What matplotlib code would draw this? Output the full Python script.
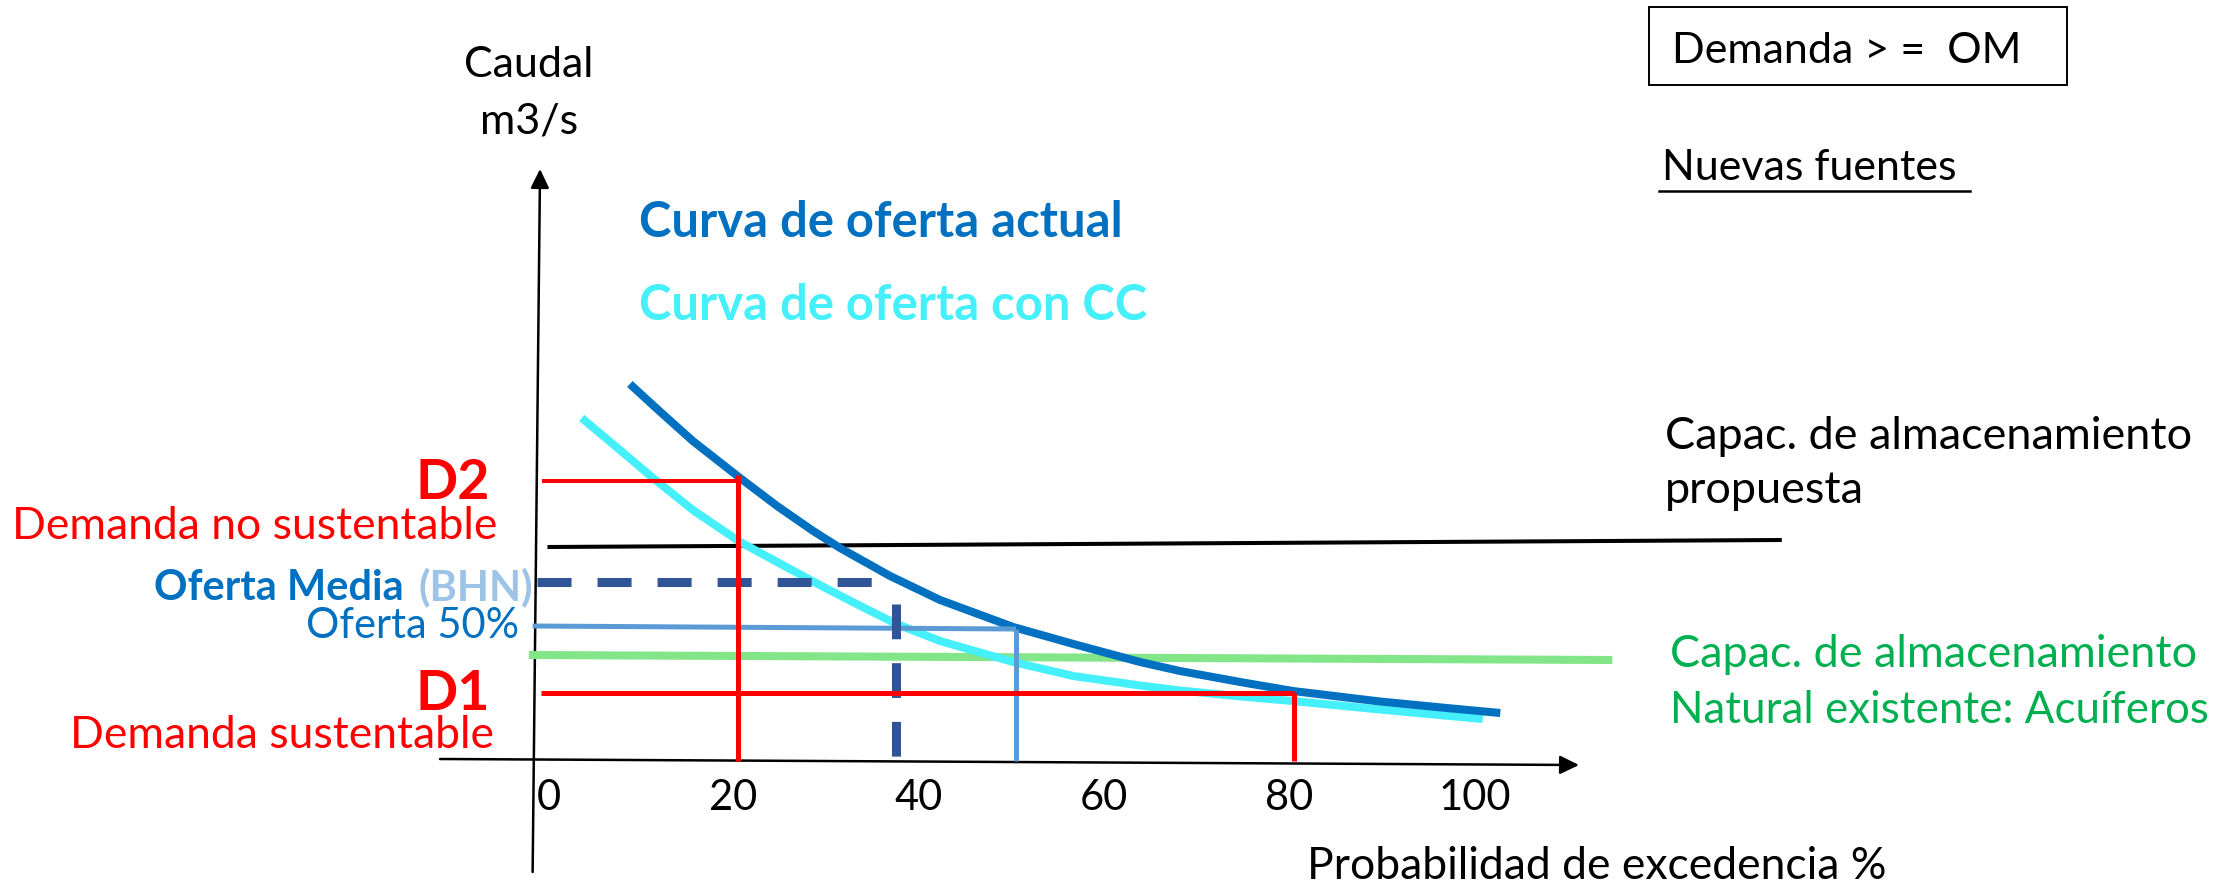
import matplotlib
matplotlib.use("Agg")
import matplotlib.pyplot as plt
from matplotlib.patches import FancyArrowPatch, Rectangle, ArrowStyle

plt.rcParams['font.family'] = ['Lato', 'DejaVu Sans']

# ---- data (probability of exceedance %, flow in arbitrary m3/s units) ----
actual_x = [8.3, 11.6, 15.1, 20.2, 24.2, 28.1, 31.0, 36.4, 41.8, 49.7, 56.2,
            63.4, 67.7, 74.5, 79.9, 89.3, 96.5, 102.3]
actual_y = [37.7, 34.9, 32.0, 28.3, 25.5, 23.0, 21.3, 18.5, 16.1, 13.4, 11.7,
            9.9, 9.0, 7.85, 7.0, 5.95, 5.3, 4.8]

cc_x = [3.1, 6.2, 10.8, 15.1, 20.2, 24.2, 28.8, 33.2, 37.1, 41.8, 49.7, 56.2,
        63.4, 67.7, 74.9, 79.9, 89.3, 100.4]
cc_y = [34.3, 31.9, 28.3, 25.1, 21.9, 19.9, 17.6, 15.5, 13.7, 12.0, 9.9, 8.5,
        7.55, 7.05, 6.4, 6.0, 5.15, 4.2]

d2_x, d2_level = 20, 28.0          # unsustainable demand
d1_x, d1_level = 80, 6.8           # sustainable demand
media_x, media_level = 37, 17.9    # mean supply (BHN)
p50_x, p50_level = [-2.2, 50], [13.5, 13.2]   # 50 % supply
storage_prop_x, storage_prop_y = [-0.6, 132.7], [21.4, 22.1]
storage_nat_x, storage_nat_y = [-2.6, 114.4], [10.6, 10.1]

tick_values = [0, 20, 40, 60, 80, 100]
tick_labels = ['0', '20', '40', '60', '80', '100']

# ---- colours ----
C_ACT = '#0070C0'
C_CC = '#45F0FA'
C_RED = '#FF0000'
C_DASH = '#2F5597'
C_P50 = '#5B9BD5'
C_GREEN_L = '#82E588'
C_GREEN_T = '#00B050'
C_BHN = '#9DC3E6'

W, H = 2226, 887
fig = plt.figure(figsize=(W / 100, H / 100), dpi=100)
ax = fig.add_axes([0, 0, 1, 1])
ax.set_xlim(-59.72, 180.67)
ax.set_ylim(-12.5, 76.2)
ax.axis('off')


def P(x, y):
    """pixel position (top-left origin) -> figure fraction"""
    return x / W, 1 - y / H


def label(x, y, s, **kw):
    kw.setdefault('va', 'baseline')
    kw.setdefault('fontsize', 32)
    fig.text(*P(x, y), s, **kw)


# ---- axes with arrows ----
arrow = ArrowStyle('-|>', head_length=11.5, head_width=5.6)
for start, end in [((-2.2, -11.1), (-1.4, 59.2)), ((-12.2, 0.2), (110.8, -0.4))]:
    ax.add_patch(FancyArrowPatch(start, end, arrowstyle=arrow, mutation_scale=1,
                                 lw=1.8, color='black', shrinkA=0, shrinkB=0,
                                 zorder=2))

# ---- storage lines ----
ax.plot(storage_nat_x, storage_nat_y, color=C_GREEN_L, lw=5.8,
        solid_capstyle='butt', zorder=3)
ax.plot(storage_prop_x, storage_prop_y, color='black', lw=2.9,
        solid_capstyle='butt', zorder=3)

# ---- supply curves ----
ax.plot(cc_x, cc_y, color=C_CC, lw=5.8, solid_capstyle='butt',
        solid_joinstyle='round', zorder=4)
ax.plot(actual_x, actual_y, color=C_ACT, lw=5.8, solid_capstyle='butt',
        solid_joinstyle='round', zorder=5)

# ---- 50 % supply ----
ax.plot(p50_x, p50_level, color=C_P50, lw=3.6, solid_capstyle='butt', zorder=6)
ax.plot([p50_x[1], p50_x[1]], [p50_level[1], 0], color=C_P50, lw=3.6,
        solid_capstyle='butt', zorder=6)

# ---- mean supply (dashed) ----
ax.plot([-1.7, 34.6], [media_level, media_level], color=C_DASH, lw=6.5,
        dashes=(3.77, 2.88), dash_capstyle='butt', zorder=7)
ax.plot([media_x, media_x], [15.7, 0.2], color=C_DASH, lw=6.5,
        dashes=(3.85, 2.65), dash_capstyle='butt', zorder=7)

# ---- demands ----
ax.plot([-1.2, d2_x], [d2_level, d2_level], color=C_RED, lw=2.9,
        solid_capstyle='butt', zorder=8)
ax.plot([d2_x, d2_x], [28.6, 0], color=C_RED, lw=3.6, solid_capstyle='butt',
        zorder=8)
ax.plot([-1.3, d1_x], [d1_level, d1_level], color=C_RED, lw=3.6,
        solid_capstyle='butt', zorder=8)
ax.plot([d1_x, d1_x], [d1_level, 0], color=C_RED, lw=3.6,
        solid_capstyle='butt', zorder=8)

# ---- x tick labels ----
for v, s in zip(tick_values, tick_labels):
    ax.text(v - 0.5, -4.8, s, ha='center', va='baseline', fontsize=30)

# ---- texts ----
label(529, 77, 'Caudal', fontsize=31, ha='center')
label(529, 133, 'm3/s', fontsize=31, ha='center')
label(639, 237, 'Curva de oferta actual', color=C_ACT, fontweight='bold', fontsize=35.3)
label(639, 320, 'Curva de oferta con CC', color=C_CC, fontweight='bold', fontsize=35.3)

label(490, 499, 'D2', ha='right', color=C_RED, fontweight='bold', fontsize=40)
label(497, 539, 'Demanda no sustentable', ha='right', color=C_RED)
label(533, 600, '(BHN)', ha='right', color=C_BHN, fontweight='bold', fontsize=30)
label(404, 600, 'Oferta Media', ha='right', color=C_ACT, fontweight='bold', fontsize=30)
label(519, 638, 'Oferta 50%', ha='right', color=C_ACT, fontsize=30)
label(490, 710, 'D1', ha='right', color=C_RED, fontweight='bold', fontsize=40)
label(494, 748, 'Demanda sustentable', ha='right', color=C_RED)

label(1307, 879, 'Probabilidad de excedencia %')

# box
fig.patches.append(Rectangle(P(1649, 86), 418 / W, 78 / H, transform=fig.transFigure,
                             fill=False, lw=1.4, edgecolor='black'))
label(1672, 63, 'Demanda > =  OM', fontsize=31)

label(1662, 180, 'Nuevas fuentes', fontsize=31)
fig.add_artist(plt.Line2D([1659 / W, 1970 / W], [1 - 192 / H, 1 - 192 / H],
                          color='black', lw=1.8, transform=fig.transFigure))

label(1665, 449, 'Capac. de almacenamiento', fontsize=32.4)
label(1665, 503, 'propuesta', fontsize=32.4)
label(1670, 667, 'Capac. de almacenamiento', color=C_GREEN_T, fontsize=32.4)
label(1670, 723, 'Natural existente: Acuíferos', color=C_GREEN_T, fontsize=31.6)

fig.savefig('out.png', dpi=100, facecolor='white')
